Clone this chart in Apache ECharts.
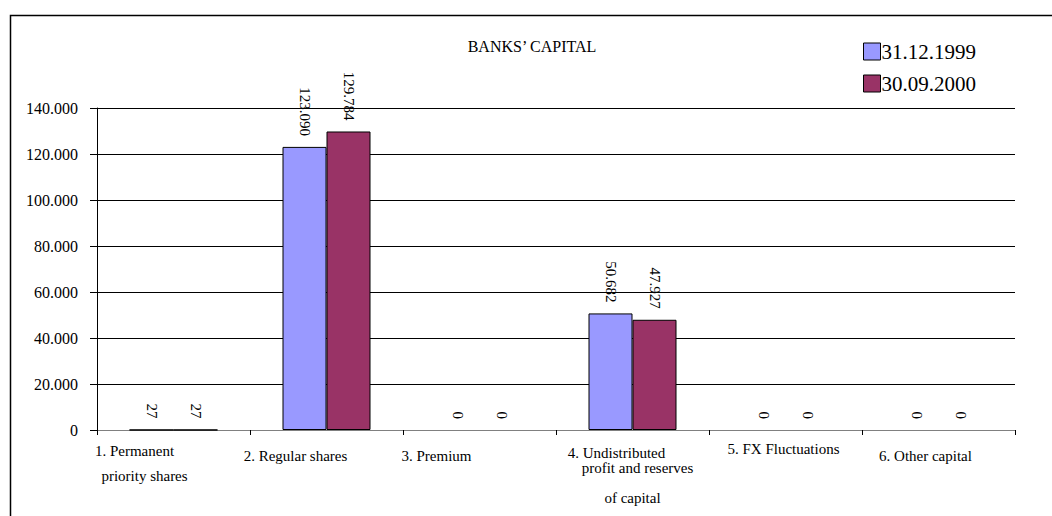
<!DOCTYPE html>
<html>
<head>
<meta charset="utf-8">
<script src="https://cdn.jsdelivr.net/npm/echarts@6/dist/echarts.min.js"></script>
<style>
  html, body { margin: 0; padding: 0; background: #ffffff; }
  #chart { width: 1052px; height: 516px; }
</style>
</head>
<body>
<div id="chart"></div>
<script>
// Capital components of the banks
const categories = [
  '1. Permanent\npriority shares',
  '2. Regular shares',
  '3. Premium',
  '4. Undistributed\nprofit and reserves\n\nof capital',
  '5. FX Fluctuations',
  '6. Other capital'
];
const seriesNames = ['31.12.1999', '30.09.2000'];
const values1999 = [27, 123090, 0, 50682, 0, 0];
const values2000 = [27, 129784, 0, 47927, 0, 0];
const yTicks = { min: 0, max: 140000, interval: 20000 };

// Per-category label placement: [top padding, right padding, line height]
const labelLayout = [
  [0, 78, 25],
  [10, 62, 16],
  [10, 86, 16],
  [7, 0, 15],
  [3, 4, 16],
  [10, 26, 16]
];
// Horizontal nudges of individual label lines (px, negative = left)
const lineShift = { 0: [0, 10], 3: [-16, 5, 0, 0] };

const serif = '"Liberation Serif", "DejaVu Serif", serif';

// thousands separated with a dot
function fmt(v) {
  return String(Math.round(v)).replace(/\B(?=(\d{3})+(?!\d))/g, '.');
}

const chart = echarts.init(document.getElementById('chart'), null, { renderer: 'svg' });

const xData = categories.map((c, i) => ({
  value: c,
  textStyle: {
    padding: [labelLayout[i][0], labelLayout[i][1], 0, 0],
    lineHeight: labelLayout[i][2]
  }
}));

// rich styles for nudged lines
const rich = {};
Object.keys(lineShift).forEach(k => {
  lineShift[k].forEach((s, j) => {
    rich['r' + k + '_' + j] = {
      fontFamily: serif,
      fontSize: 15,
      color: '#000000',
      lineHeight: labelLayout[k][2],
      padding: s < 0 ? [0, -2 * s, 0, 0] : [0, 0, 0, 2 * s]
    };
  });
});

function labelText(value, index) {
  const shifts = lineShift[index];
  if (!shifts) return value;
  return value.split('\n').map((ln, j) =>
    ln && shifts[j] ? '{r' + index + '_' + j + '|' + ln + '}' : ln
  ).join('\n');
}

// empty categories get no outline
function barData(values) {
  return values.map(v => v === 0 ? { value: v, itemStyle: { borderWidth: 0 } } : v);
}

function barSeries(name, values, color) {
  return {
    name: name,
    type: 'bar',
    data: barData(values),
    barWidth: 44,
    barGap: '0%',
    itemStyle: { color: color, borderColor: '#000000', borderWidth: 1 },
    label: {
      show: true,
      position: 'top',
      distance: 11,
      rotate: -90,
      align: 'right',
      verticalAlign: 'middle',
      color: '#000000',
      fontFamily: serif,
      fontSize: 15,
      formatter: p => fmt(p.value)
    }
  };
}

chart.setOption({
  animation: false,
  backgroundColor: '#ffffff',
  title: {
    text: 'BANKS\u2019 CAPITAL',
    left: 527,
    textAlign: 'center',
    top: 33,
    textStyle: { fontFamily: serif, fontSize: 16, fontWeight: 'normal', color: '#000000' }
  },
  legend: {
    orient: 'vertical',
    left: 863,
    top: 41,
    padding: 0,
    itemWidth: 17,
    itemHeight: 17,
    itemGap: 11,
    icon: 'rect',
    data: seriesNames,
    itemStyle: { borderColor: '#000000', borderWidth: 1 },
    textStyle: { fontFamily: serif, fontSize: 21, lineHeight: 17, color: '#000000', padding: [0, 0, 0, -4] }
  },
  grid: { left: 97, right: 37, top: 108, bottom: 86 },
  xAxis: {
    type: 'category',
    data: xData,
    axisLine: { lineStyle: { color: '#808080', width: 1 } },
    axisTick: { show: true, length: 5, lineStyle: { color: '#000000' } },
    axisLabel: {
      interval: 0,
      margin: 8,
      color: '#000000',
      fontFamily: serif,
      fontSize: 15,
      formatter: labelText,
      rich: rich
    },
    splitLine: { show: false }
  },
  yAxis: {
    type: 'value',
    min: yTicks.min,
    max: yTicks.max,
    interval: yTicks.interval,
    axisLine: { show: true, lineStyle: { color: '#000000', width: 1 } },
    axisTick: { show: true, length: 7, lineStyle: { color: '#000000' } },
    axisLabel: {
      margin: 19,
      color: '#000000',
      fontFamily: serif,
      fontSize: 16,
      formatter: v => fmt(v)
    },
    splitLine: { show: true, lineStyle: { color: '#000000', width: 1 } }
  },
  graphic: [{
    type: 'rect',
    shape: { x: 10.5, y: 15.5, width: 1200, height: 700 },
    style: { fill: 'none', stroke: '#000000', lineWidth: 1.5 },
    silent: true,
    z: -1
  }],
  series: [
    barSeries(seriesNames[0], values1999, '#9999FF'),
    barSeries(seriesNames[1], values2000, '#993366')
  ]
});
</script>
</body>
</html>
